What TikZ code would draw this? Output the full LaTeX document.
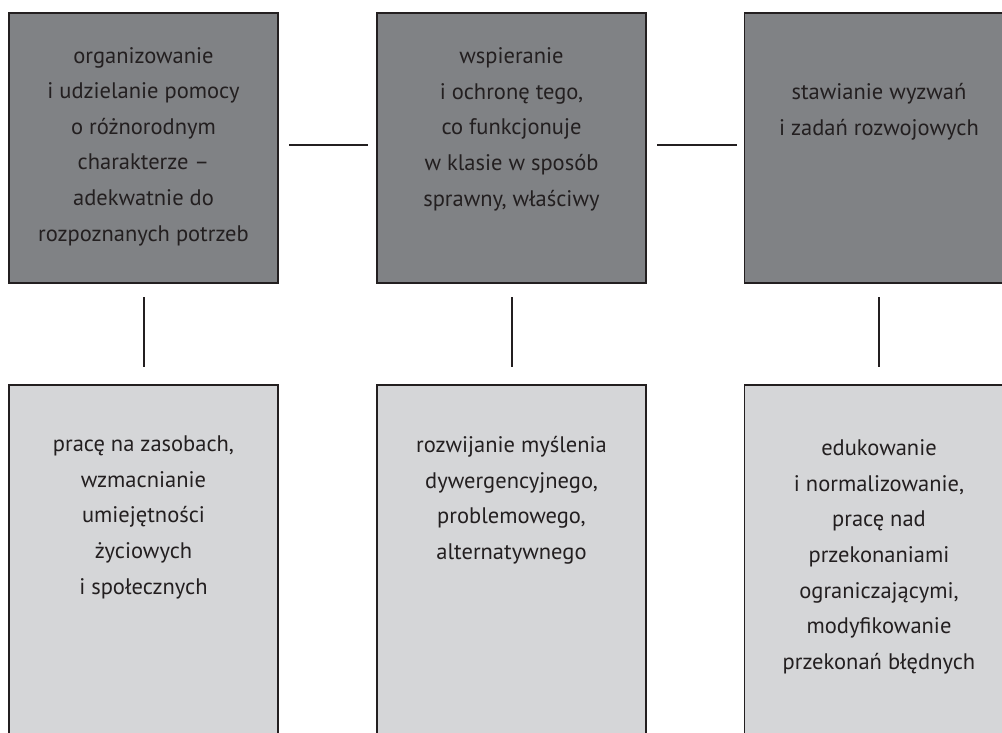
\documentclass[tikz,border=0pt]{standalone}
\usepackage{fontspec}
\setmainfont{PT Sans}
\definecolor{darkfill}{HTML}{808285}
\definecolor{lightfill}{HTML}{D5D6D8}
\definecolor{ink}{HTML}{231F20}
\begin{document}
\begin{tikzpicture}[x=1pt,y=-1pt,
  boxbase/.style={draw=ink, line width=1.2pt, minimum width=269pt, inner sep=0pt, outer sep=0pt},
  topbox/.style={boxbase, fill=darkfill, minimum height=270pt},
  botbox/.style={boxbase, fill=lightfill, minimum height=375pt},
  label/.style={anchor=north, align=center, inner sep=0pt, text=ink, font=\fontsize{22.5}{35.6}\selectfont},
  conn/.style={draw=ink, line width=2pt}]
\useasboundingbox (0,0) rectangle (1002,733);
\clip (0,0) rectangle (1002,733);
\fill[white] (0,0) rectangle (1002,733);
% top boxes
\node[topbox] (t1) at (143.5,148) {};
\node[topbox] (t2) at (511.5,148) {};
\node[topbox] (t3) at (879,148) {};
% bottom boxes
\node[botbox] (b1) at (143.5,572.5) {};
\node[botbox] (b2) at (511.5,572.5) {};
\node[botbox] (b3) at (879,572.5) {};
% texts
\node[label] (l1) at (143.5,38) {\strut organizowanie\\i udzielanie pomocy\\o różnorodnym\\charakterze –\\adekwatnie do\\rozpoznanych potrzeb};
\node[label] (l2) at (511.5,38.5) {\strut wspieranie\\i ochronę tego,\\co funkcjonuje\\w klasie w sposób\\sprawny, właściwy};
\node[label] (l3) at (879,74.5) {\strut stawianie wyzwań\\i zadań rozwojowych};
\node[label] (l4) at (143.5,426.5) {\strut pracę na zasobach,\\wzmacnianie\\umiejętności\\życiowych\\i społecznych};
\node[label] (l5) at (511.5,427.5) {\strut rozwijanie myślenia\\dywergencyjnego,\\problemowego,\\alternatywnego};
\node[label] (l6) at (879,430.5) {\strut edukowanie\\i normalizowanie,\\pracę nad\\przekonaniami\\ograniczającymi,\\modyfikowanie\\przekonań błędnych};
% connectors
\draw[conn] ([xshift=11pt,yshift=3pt]t1.east) -- ([xshift=-9pt,yshift=3pt]t2.west);
\draw[conn] ([xshift=11pt,yshift=3pt]t2.east) -- ([xshift=-8pt,yshift=3pt]t3.west);
\draw[conn, shorten <=14pt, shorten >=18pt] (t1.south) -- (b1.north);
\draw[conn, shorten <=14pt, shorten >=18pt] (t2.south) -- (b2.north);
\draw[conn, shorten <=14pt, shorten >=18pt] (t3.south) -- (b3.north);
\end{tikzpicture}
\end{document}
